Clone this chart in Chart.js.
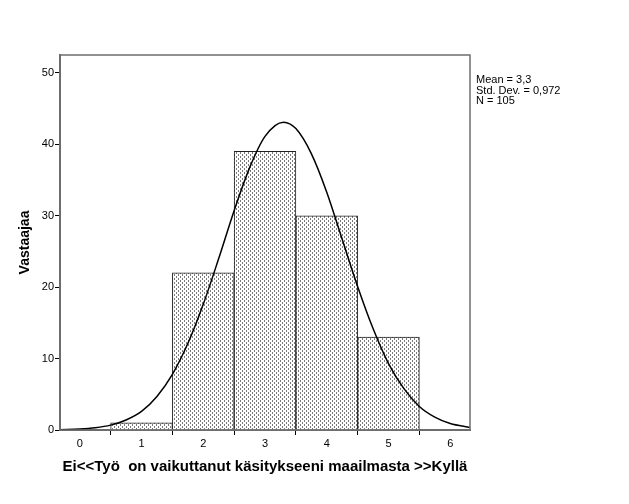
<!DOCTYPE html>
<html>
<head>
<meta charset="utf-8">
<script src="https://cdn.jsdelivr.net/npm/chart.js@4.4.1/dist/chart.umd.min.js"></script>
<style>
  html, body { margin: 0; padding: 0; background: #fff; }
  #wrap { width: 629px; height: 504px; position: relative; }
</style>
</head>
<body>
<div id="wrap"><canvas id="histo" width="629" height="504"></canvas></div>
<script>
const binCenters = [1, 2, 3, 4, 5];
const counts = [1, 22, 39, 30, 13];

// Courbe normale (x, y)
const curveX = [-0.32, 0, 0.25, 0.5, 0.75, 1, 1.25, 1.5, 1.75, 2, 2.25, 2.5, 2.75, 3, 3.3, 3.5, 3.75, 4, 4.25, 4.5, 4.75, 5, 5.25, 5.5, 5.75, 6, 6.32];
const curveY = [0.04, 0.13, 0.31, 0.68, 1.4, 2.6, 4.7, 7.8, 12.1, 17.6, 24.0, 30.7, 36.7, 41.1, 43.1, 42.2, 38.7, 33.3, 26.7, 20.1, 14.2, 9.3, 5.8, 3.3, 1.8, 0.9, 0.35];

const xTicks = [0, 1, 2, 3, 4, 5, 6];
const yTicks = [0, 10, 20, 30, 40, 50];
const statsLines = ['Mean = 3,3', 'Std. Dev. = 0,972', 'N = 105'];

// Motif pointillé des barres
function makePattern() {
    const c = document.createElement('canvas');
    c.width = 4; c.height = 4;
    const g = c.getContext('2d');
    g.fillStyle = '#ffffff';
    g.fillRect(0, 0, 4, 4);
    g.fillStyle = '#7a7a7a';
    g.fillRect(0, 0, 1, 2);
    g.fillRect(2, 2, 1, 2);
    return g.createPattern(c, 'repeat');
}

// Cadre du graphique et texte des statistiques
const framePlugin = {
    id: 'frame',
    afterDraw(chart) {
        const ctx = chart.ctx;
        const a = chart.chartArea;
        ctx.save();
        ctx.strokeStyle = '#6e6e6e';
        ctx.lineWidth = 1.5;
        ctx.strokeRect(a.left, a.top, a.right - a.left, a.bottom - a.top);
        ctx.fillStyle = '#000';
        ctx.font = '11px "Liberation Sans", Arial, sans-serif';
        ctx.textBaseline = 'middle';
        statsLines.forEach((t, i) => {
            ctx.fillText(t, a.right + 6, 80 + i * 10.5);
        });
        ctx.restore();
    }
};

const ctx = document.getElementById('histo').getContext('2d');
new Chart(ctx, {
    data: {
        datasets: [
            {
                type: 'line',
                data: curveX.map((x, i) => ({ x: x, y: curveY[i] })),
                borderColor: '#000',
                borderWidth: 1.5,
                pointRadius: 0,
                fill: false,
                cubicInterpolationMode: 'monotone',
                order: 0
            },
            {
                type: 'bar',
                data: binCenters.map((x, i) => ({ x: x, y: counts[i] })),
                backgroundColor: makePattern(),
                borderColor: '#222',
                borderWidth: 1,
                barPercentage: 1,
                categoryPercentage: 1,
                order: 1
            }
        ]
    },
    plugins: [framePlugin],
    options: {
        responsive: false,
        animation: false,
        layout: { padding: { left: 0, top: 55, right: 159, bottom: 0 } },
        plugins: {
            legend: { display: false },
            tooltip: { enabled: false }
        },
        scales: {
            x: {
                type: 'linear',
                min: -0.32,
                max: 6.32,
                offset: false,
                afterBuildTicks: scale => { scale.ticks = xTicks.map(v => ({ value: v })); },
                afterFit: scale => { scale.height = 74; },
                grid: { drawOnChartArea: false, drawTicks: true, tickLength: 5, color: '#000' },
                border: { display: true, color: '#6e6e6e', width: 2 },
                ticks: {
                    color: '#000',
                    padding: 2,
                    maxRotation: 0,
                    font: { family: '"Liberation Sans", Arial, sans-serif', size: 11 }
                },
                title: {
                    display: true,
                    text: 'Ei<<Työ  on vaikuttanut käsitykseeni maailmasta >>Kyllä',
                    color: '#000',
                    padding: { top: 4, bottom: 28 },
                    font: { family: '"Liberation Sans", Arial, sans-serif', size: 15, weight: 'bold' }
                }
            },
            y: {
                min: 0,
                max: 52.5,
                afterBuildTicks: scale => { scale.ticks = yTicks.map(v => ({ value: v })); },
                afterFit: scale => { scale.width = 60; },
                grid: { drawOnChartArea: false, drawTicks: true, tickLength: 5, color: '#000' },
                border: { display: true, color: '#6e6e6e', width: 2 },
                ticks: {
                    color: '#000',
                    padding: 1,
                    font: { family: '"Liberation Sans", Arial, sans-serif', size: 11 }
                },
                title: {
                    display: true,
                    text: 'Vastaajaa',
                    color: '#000',
                    padding: { bottom: 0, top: 17 },
                    font: { family: '"Liberation Sans", Arial, sans-serif', size: 14, weight: 'bold' }
                }
            }
        }
    }
});
</script>
</body>
</html>
